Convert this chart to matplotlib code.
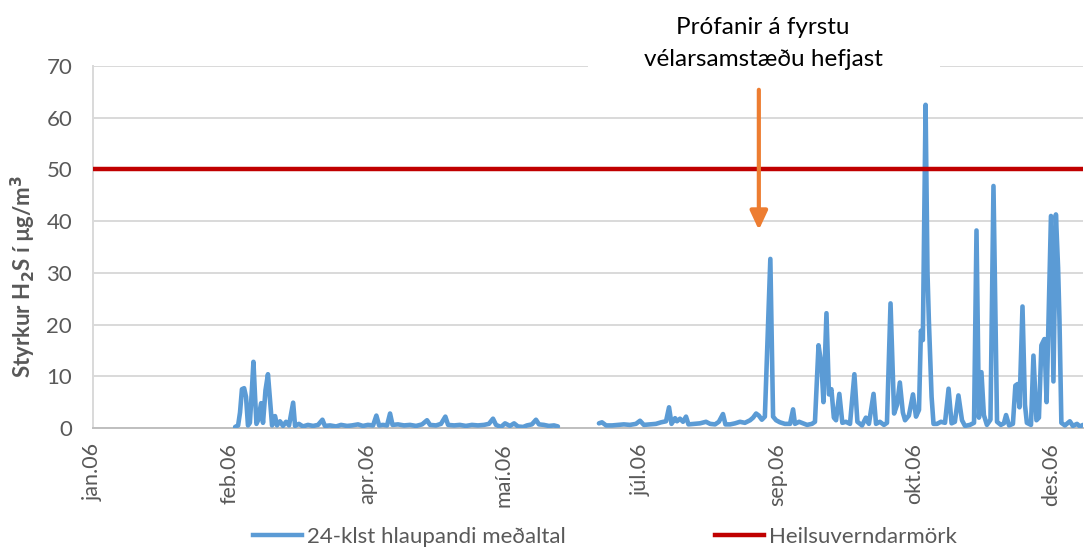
import numpy as np
import matplotlib
matplotlib.use("Agg")
import matplotlib.pyplot as plt
from matplotlib.patches import Rectangle
from matplotlib.lines import Line2D

plt.rcParams['font.family'] = ['Lato', 'DejaVu Sans']

# ---- data (x = days since 1 Jan 2006, y = 24-h running mean H2S, ug/m3) ----
days_a = [51.9, 53.0, 53.7, 54.4, 55.2, 55.9, 56.6, 57.3, 58.1, 58.6, 59.2, 59.7,
          60.3, 61.4, 62.1, 63.0, 63.9, 64.7, 65.4, 66.5, 67.2, 68.3, 69.4, 70.5,
          71.6, 73.1, 73.8, 75.2, 76.7, 78.5, 80.4, 82.2, 83.8, 84.7, 86.6, 88.8,
          90.6, 92.8, 94.6, 96.8, 98.6, 100.4, 102.3, 103.5, 104.5, 105.9, 107.4,
          108.5, 109.4, 111.4, 113.6, 115.8, 118.0, 120.2, 122.0, 123.1, 125.3,
          127.1, 128.7, 129.7, 131.9, 134.0, 136.2, 138.4, 140.6, 142.8, 144.6,
          146.1, 147.2, 149.0, 150.5, 152.3, 153.8, 155.2, 157.1, 158.5, 160.3,
          161.8, 162.9, 164.7, 166.5, 168.4, 169.8]
vals_a = [0.2, 0.5, 3.0, 7.5, 7.7, 6.0, 0.5, 1.0, 8.0, 12.8, 6.0, 0.8,
          1.5, 4.8, 1.0, 7.3, 10.4, 5.0, 0.5, 2.3, 0.5, 1.3, 0.4, 1.2,
          0.5, 4.9, 0.4, 0.8, 0.3, 0.6, 0.4, 0.6, 1.6, 0.4, 0.5, 0.3,
          0.6, 0.4, 0.5, 0.7, 0.4, 0.6, 0.5, 2.4, 0.5, 0.6, 0.5,
          2.8, 0.6, 0.7, 0.5, 0.6, 0.4, 0.7, 1.5, 0.6, 0.5,
          0.8, 2.2, 0.6, 0.5, 0.6, 0.4, 0.6, 0.5, 0.6, 0.8,
          1.8, 0.6, 0.2, 0.9, 0.4, 0.9, 0.3, 0.2, 0.5, 0.7,
          1.6, 0.7, 0.6, 0.4, 0.5, 0.3]

days_b = [184.8, 185.9, 187.4, 189.6, 191.8, 193.9, 196.1, 198.3, 199.8, 201.2,
          203.4, 205.6, 207.5, 209.3, 210.4, 211.3, 212.6, 213.3, 214.4, 215.5,
          216.6, 217.5, 219.5, 221.7, 223.9, 225.4, 227.2, 228.6, 230.1, 231.0,
          232.7, 234.5, 236.3, 238.1, 240.0, 241.1, 242.2, 243.2, 244.3, 245.4,
          246.5, 247.4, 248.4, 249.5, 250.9, 252.7, 254.6, 255.7, 256.4, 257.9,
          259.3, 260.8, 262.6, 263.7, 265.0, 266.1, 266.8, 267.9, 268.8, 269.7,
          270.6, 271.4, 272.6, 273.7, 275.0, 276.5, 278.1, 279.2, 280.9, 282.3,
          283.4, 285.1, 286.0, 287.4, 288.9, 290.0, 291.3, 292.6, 293.7, 294.7,
          295.8, 296.6, 298.0, 299.5, 300.6, 301.7, 302.4, 303.1, 304.1, 304.8,
          305.3, 306.3, 307.0, 308.3, 309.7, 311.2, 312.5, 313.6, 314.8, 316.1,
          317.4, 318.5, 320.3, 321.8, 322.7, 323.6, 324.5, 325.4, 326.5, 327.8,
          328.9, 330.2, 331.6, 332.7, 333.5, 334.6, 336.0, 336.9, 337.7, 338.4,
          339.5, 340.4, 341.1, 342.6, 343.5, 344.6, 345.5, 346.4, 347.5, 348.3,
          349.9, 350.8, 351.7, 352.5, 353.0, 353.7, 355.0, 356.8, 357.9, 359.4,
          360.5, 361.6]
vals_b = [0.9, 1.1, 0.5, 0.5, 0.6, 0.7, 0.6, 0.8, 1.4, 0.6,
          0.7, 0.8, 1.1, 1.3, 4.0, 0.8, 1.9, 1.3, 1.8, 1.2,
          2.2, 0.7, 0.8, 0.9, 1.2, 0.8, 0.7, 1.2, 2.7, 0.7,
          0.7, 0.9, 1.2, 1.0, 1.5, 2.0, 2.8, 2.4, 1.6, 2.2,
          19.0, 32.7, 2.2, 1.5, 1.1, 0.8, 0.8, 3.6, 0.8, 1.2,
          0.9, 0.6, 0.8, 1.2, 16.0, 12.0, 5.0, 22.2, 6.5, 7.5,
          2.0, 1.5, 6.6, 1.0, 1.2, 0.8, 10.4, 1.2, 0.5, 2.0,
          0.8, 6.6, 0.8, 1.2, 0.6, 1.0, 24.1, 2.8, 4.5, 8.8,
          3.0, 1.5, 2.4, 6.5, 2.2, 3.5, 18.8, 17.0, 62.5, 30.0,
          20.8, 6.0, 0.8, 0.8, 1.2, 1.0, 7.6, 0.9, 1.2, 6.3,
          1.5, 0.4, 0.6, 1.0, 38.2, 2.0, 10.8, 2.5, 0.6, 1.6,
          46.8, 1.2, 0.6, 0.9, 2.5, 0.5, 0.8, 8.2, 8.5, 4.0,
          23.5, 4.5, 1.0, 0.6, 14.0, 1.5, 2.0, 16.0, 17.2, 5.0,
          41.0, 9.0, 41.3, 31.0, 21.0, 1.0, 0.5, 1.3, 0.4, 0.8,
          0.3, 0.6]

limit_value = 50
tick_days = [0, 50, 100, 150, 200, 250, 300, 350]
tick_labels = ['jan.06', 'feb.06', 'apr.06', 'maí.06', 'júl.06', 'sep.06', 'okt.06', 'des.06']
y_ticks = [0, 10, 20, 30, 40, 50, 60, 70]
series_label = '24-klst hlaupandi meðaltal'
limit_label = 'Heilsuverndarmörk'
note_text = 'Prófanir á fyrstu\nvélarsamstæðu hefjast'
note_day = 243.2

BLUE = '#5B9BD5'
RED = '#C00000'
ORANGE = '#ED7D31'
GRAY = '#595959'
GRID = '#D9D9D9'

fig = plt.figure(figsize=(10.85, 5.48), dpi=100)
ax = fig.add_axes([93/1085, 120/548, 990/1085, 362/548])

days = days_a + [np.nan] + days_b
vals = vals_a + [np.nan] + vals_b
ax.plot(days, vals, color=BLUE, lw=3.3, solid_joinstyle='round', solid_capstyle='round', zorder=3)
ax.axhline(limit_value, color=RED, lw=3.2, zorder=4)

ax.set_xlim(0, 361.6)
ax.set_ylim(0, 70)
ax.set_yticks(y_ticks)
ax.set_xticks(tick_days)
ax.set_xticklabels(tick_labels, rotation=90)
ax.tick_params(axis='y', length=0, pad=15, labelsize=16, labelcolor=GRAY)
ax.tick_params(axis='x', length=0, pad=11, labelsize=15.5, labelcolor=GRAY)
ax.grid(axis='y', color=GRID, lw=1.4, zorder=0)
ax.set_axisbelow(True)
for s in ['top', 'right']:
    ax.spines[s].set_visible(False)
ax.spines['left'].set_color(GRID)
ax.spines['left'].set_linewidth(1.4)
ax.spines['bottom'].set_color('#BFBFBF')
ax.spines['bottom'].set_linewidth(1.4)

ax.set_ylabel('Styrkur H$_\\mathbf{2}$S í µg/m$^\\mathbf{3}$', fontsize=16, fontweight='bold',
              color=GRAY)
ax.yaxis.set_label_coords(-0.0556, 0.42)

# white text box over top gridline
ax.add_patch(Rectangle((180.8, 67.3), 128.5, 13.5, facecolor='white', edgecolor='none',
                       clip_on=False, zorder=5))
ax.text(note_day + 1.5, 74.3, note_text, ha='center', va='center', fontsize=17.5,
        color='black', linespacing=1.62, zorder=6)
ax.annotate('', xy=(note_day, 38.3), xytext=(note_day, 65.4),
            arrowprops=dict(arrowstyle='-|>,head_length=0.75,head_width=0.35',
                            color=ORANGE, lw=3, shrinkA=0, shrinkB=0, mutation_scale=15),
            zorder=6)

handles = [Line2D([], [], color=BLUE, lw=3.2), Line2D([], [], color=RED, lw=3.2)]
fig.legend(handles, [series_label, limit_label], loc='center', ncol=2,
           bbox_to_anchor=(605/1085, 11/548), frameon=False, fontsize=16,
           labelcolor=GRAY, handlelength=2.2, handletextpad=0.25, columnspacing=6.7)

fig.savefig('out.png', dpi=100)
